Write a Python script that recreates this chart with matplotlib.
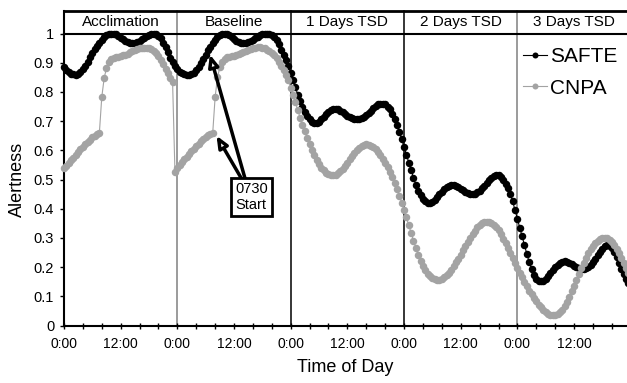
import numpy as np
import matplotlib.pyplot as plt

plt.rcParams['font.family'] = ['Liberation Sans', 'DejaVu Sans']

# 30-minute samples, hours since start of acclimation day
hours = np.arange(0, 120, 0.5)

day_labels = ['Acclimation', 'Baseline', '1 Days TSD', '2 Days TSD', '3 Days TSD']
tick_labels = ['0:00', '12:00'] * 5

# SAFTE model alertness, one list per day (48 half-hour values each)
safte_day0 = [0.884, 0.876, 0.869, 0.863, 0.860, 0.859, 0.862, 0.868, 0.878, 0.890, 0.904, 0.918, 0.933, 0.946, 0.958, 0.968,
              0.978, 0.987, 0.994, 0.999, 1.000, 1.000, 0.997, 0.992, 0.986, 0.980, 0.975, 0.971, 0.969, 0.968, 0.969, 0.972,
              0.976, 0.980, 0.985, 0.990, 0.995, 0.998, 1.000, 0.999, 0.993, 0.983, 0.969, 0.953, 0.935, 0.917, 0.901, 0.888]
safte_day1 = [0.877, 0.869, 0.864, 0.861, 0.859, 0.859, 0.861, 0.866, 0.874, 0.886, 0.899, 0.913, 0.928, 0.942, 0.955, 0.966,
              0.977, 0.987, 0.994, 0.998, 1.000, 0.999, 0.994, 0.987, 0.980, 0.975, 0.971, 0.969, 0.968, 0.969, 0.971, 0.975,
              0.979, 0.984, 0.989, 0.994, 0.997, 0.999, 1.000, 0.999, 0.996, 0.989, 0.978, 0.963, 0.945, 0.927, 0.908, 0.888]
safte_day2 = [0.866, 0.842, 0.816, 0.791, 0.769, 0.749, 0.732, 0.717, 0.706, 0.698, 0.694, 0.694, 0.698, 0.706, 0.715, 0.724,
              0.732, 0.737, 0.740, 0.741, 0.740, 0.736, 0.731, 0.725, 0.719, 0.714, 0.710, 0.707, 0.706, 0.707, 0.710, 0.715,
              0.721, 0.728, 0.736, 0.744, 0.751, 0.757, 0.760, 0.760, 0.757, 0.750, 0.740, 0.726, 0.708, 0.687, 0.663, 0.638]
safte_day3 = [0.612, 0.585, 0.558, 0.532, 0.506, 0.482, 0.462, 0.446, 0.434, 0.426, 0.421, 0.420, 0.423, 0.430, 0.439, 0.449,
              0.459, 0.467, 0.474, 0.478, 0.480, 0.480, 0.478, 0.474, 0.469, 0.464, 0.459, 0.455, 0.452, 0.451, 0.452, 0.456,
              0.462, 0.470, 0.479, 0.489, 0.498, 0.506, 0.512, 0.515, 0.514, 0.509, 0.499, 0.485, 0.470, 0.450, 0.425, 0.395]
safte_day4 = [0.365, 0.335, 0.305, 0.275, 0.245, 0.217, 0.193, 0.173, 0.160, 0.153, 0.151, 0.154, 0.161, 0.170, 0.180, 0.191,
              0.201, 0.209, 0.215, 0.219, 0.220, 0.219, 0.215, 0.210, 0.205, 0.200, 0.196, 0.194, 0.194, 0.196, 0.201, 0.208,
              0.217, 0.228, 0.240, 0.252, 0.263, 0.271, 0.275, 0.273, 0.265, 0.251, 0.234, 0.214, 0.194, 0.176, 0.160, 0.146]

# CNPA alertness
cnpa_day0 = [0.540, 0.548, 0.557, 0.566, 0.575, 0.585, 0.594, 0.603, 0.612, 0.621, 0.629, 0.637, 0.644, 0.650, 0.655, 0.660,
             0.781, 0.846, 0.882, 0.902, 0.912, 0.917, 0.919, 0.921, 0.923, 0.925, 0.928, 0.931, 0.935, 0.939, 0.943, 0.946,
             0.949, 0.951, 0.952, 0.952, 0.950, 0.946, 0.940, 0.932, 0.922, 0.910, 0.896, 0.880, 0.864, 0.848, 0.833, 0.525]
cnpa_day1 = [0.538, 0.549, 0.559, 0.569, 0.578, 0.588, 0.597, 0.606, 0.615, 0.623, 0.631, 0.638, 0.645, 0.651, 0.656, 0.661,
             0.781, 0.850, 0.884, 0.903, 0.913, 0.918, 0.920, 0.922, 0.924, 0.926, 0.929, 0.932, 0.936, 0.940, 0.944, 0.947,
             0.950, 0.952, 0.953, 0.953, 0.952, 0.949, 0.945, 0.940, 0.934, 0.926, 0.916, 0.904, 0.890, 0.875, 0.859, 0.840]
cnpa_day2 = [0.815, 0.790, 0.764, 0.738, 0.712, 0.688, 0.665, 0.642, 0.620, 0.600, 0.583, 0.567, 0.552, 0.540, 0.531, 0.524,
             0.519, 0.516, 0.515, 0.517, 0.521, 0.528, 0.537, 0.547, 0.558, 0.570, 0.581, 0.592, 0.601, 0.609, 0.615, 0.619,
             0.620, 0.619, 0.616, 0.610, 0.603, 0.594, 0.583, 0.571, 0.558, 0.543, 0.526, 0.507, 0.488, 0.468, 0.445, 0.421]
cnpa_day3 = [0.396, 0.370, 0.343, 0.317, 0.291, 0.266, 0.243, 0.222, 0.205, 0.190, 0.178, 0.168, 0.162, 0.158, 0.156, 0.157,
             0.160, 0.165, 0.172, 0.181, 0.191, 0.203, 0.216, 0.229, 0.243, 0.258, 0.272, 0.286, 0.300, 0.313, 0.325, 0.336,
             0.344, 0.350, 0.354, 0.356, 0.355, 0.352, 0.346, 0.337, 0.326, 0.313, 0.298, 0.282, 0.265, 0.248, 0.230, 0.213]
cnpa_day4 = [0.197, 0.181, 0.165, 0.150, 0.135, 0.120, 0.107, 0.095, 0.083, 0.072, 0.062, 0.053, 0.046, 0.040, 0.036, 0.035,
             0.036, 0.039, 0.045, 0.054, 0.066, 0.081, 0.098, 0.117, 0.137, 0.157, 0.177, 0.197, 0.215, 0.232, 0.247, 0.261,
             0.273, 0.283, 0.291, 0.297, 0.300, 0.301, 0.299, 0.294, 0.286, 0.276, 0.263, 0.248, 0.232, 0.215, 0.198, 0.181]

safte = safte_day0 + safte_day1 + safte_day2 + safte_day3 + safte_day4
cnpa = cnpa_day0 + cnpa_day1 + cnpa_day2 + cnpa_day3 + cnpa_day4

xmax = 119.2
top = 1.077  # top of the header strip

fig = plt.figure(figsize=(6.27, 3.83), dpi=100)
ax = fig.add_axes([0.102, 0.150, 0.898, 0.7625])

ax.plot(hours, safte, color='black', marker='o', ms=5.4, mew=0, lw=0.8, clip_on=False, zorder=3, label='SAFTE')
ax.plot(hours, cnpa, color='#a3a3a3', marker='o', ms=5.4, mew=0, lw=0.8, clip_on=False, zorder=4, label='CNPA')

ax.set_xlim(0, xmax)
ax.set_ylim(0, 1)
ax.set_yticks(np.arange(0, 1.01, 0.1))
ax.set_yticklabels(['0', '0.1', '0.2', '0.3', '0.4', '0.5', '0.6', '0.7', '0.8', '0.9', '1'])
ax.set_xticks(np.arange(0, 120, 12))
ax.set_xticklabels(tick_labels)
ax.set_xticks(np.arange(0, 120, 4), minor=True)
ax.tick_params(axis='y', direction='out', length=3, width=1, labelsize=10.5, pad=4)
ax.tick_params(axis='x', which='both', direction='inout', length=4.5, width=1, labelsize=10, pad=6)

for s in ['left', 'bottom', 'top']:
    ax.spines[s].set_linewidth(1.5)
ax.spines['right'].set_visible(False)

ax.set_xlabel('Time of Day', fontsize=13, labelpad=6)
ax.set_ylabel('Alertness', fontsize=13, labelpad=6)

# day boundaries and header strip
for d, c in zip([24, 48, 72, 96], ['#808080', 'black', 'black', '#808080']):
    ax.plot([d, d], [0, top], color=c, lw=1.1, clip_on=False, zorder=1)
ax.plot([0, xmax], [top, top], color='black', lw=2, clip_on=False)
ax.plot([0, 0], [1, top], color='black', lw=1.5, clip_on=False)
for i, lab in enumerate(day_labels):
    ax.text(i * 24 + 12, (1 + top) / 2, lab, ha='center', va='center', fontsize=11, clip_on=False)

# 0730 start annotation
ax.text(36.2, 0.49, '0730\nStart', ha='left', va='top', fontsize=10.5, linespacing=1.15, zorder=6,
        bbox=dict(boxstyle='square,pad=0.3', fc='white', ec='black', lw=2))
arrow = dict(arrowstyle='-|>,head_length=0.7,head_width=0.3', fc='white', ec='black', lw=2.5, shrinkA=0, shrinkB=0)
ax.annotate('', xy=(30.9, 0.928), xytext=(38.4, 0.50), arrowprops=arrow, zorder=5)
ax.annotate('', xy=(32.3, 0.65), xytext=(37.7, 0.50), arrowprops=arrow, zorder=5)

ax.legend(loc='upper left', bbox_to_anchor=(523 / 627, 1 - 47 / 383), bbox_transform=fig.transFigure,
          frameon=False, fontsize=15, handlelength=1.15, handletextpad=0.15, labelspacing=0.6,
          borderpad=0, borderaxespad=0, markerscale=0.8)

fig.savefig('out.png', dpi=100)
